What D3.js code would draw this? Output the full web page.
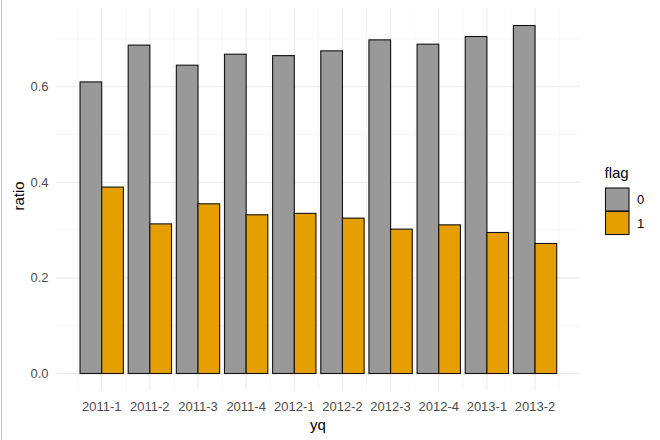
<!DOCTYPE html>
<html><head><meta charset="utf-8">
<script src="https://cdn.jsdelivr.net/npm/d3@7"></script>
<style>body{margin:0;background:#fff}svg{display:block}text{font-family:"Liberation Sans",Arial,sans-serif}</style>
</head><body><svg id="c" width="660" height="440"></svg>
<script>
const categories = ["2011-1","2011-2","2011-3","2011-4","2012-1","2012-2","2012-3","2012-4","2013-1","2013-2"];
const flags = ["0","1"];
const ratio0 = [0.610,0.687,0.645,0.668,0.665,0.675,0.698,0.689,0.705,0.728];
const ratio1 = [0.390,0.313,0.355,0.332,0.335,0.325,0.302,0.311,0.295,0.272];
const yTicks = [0,0.2,0.4,0.6];
const yMinor = [0.1,0.3,0.5,0.7];
const colors = ["#999999","#E69F00"];

const svg = d3.select("#c");
const W=660,H=440;
const panel = {l:56, r:580, t:8, b:390};

svg.append("line").attr("x1",1.5).attr("x2",1.5).attr("y1",0).attr("y2",H).attr("stroke","#c8c8c8").attr("stroke-width",1);

const step = 48.15;
const c0 = 101.7;
const x = d3.scaleLinear().domain([1,10]).range([c0, c0+9*step]);
const y = d3.scaleLinear().domain([0,0.6]).range([373.5, 373.5-0.6*478]);

const g = svg.append("g");
yMinor.forEach(v=>g.append("line").attr("x1",panel.l).attr("x2",panel.r).attr("y1",y(v)).attr("y2",y(v)).attr("stroke","#f2f2f2").attr("stroke-width",0.6));
const xMinor = d3.range(0.5,11,1).filter(v=>x(v)>=panel.l&&x(v)<=panel.r);
xMinor.forEach(v=>g.append("line").attr("x1",x(v)).attr("x2",x(v)).attr("y1",panel.t).attr("y2",panel.b).attr("stroke","#f2f2f2").attr("stroke-width",0.6));
yTicks.forEach(v=>g.append("line").attr("x1",panel.l).attr("x2",panel.r).attr("y1",y(v)).attr("y2",y(v)).attr("stroke","#ebebeb").attr("stroke-width",1.1));
categories.forEach((c,i)=>g.append("line").attr("x1",x(i+1)).attr("x2",x(i+1)).attr("y1",panel.t).attr("y2",panel.b).attr("stroke","#ebebeb").attr("stroke-width",1.1));

const bw = step*0.9/2;
const series=[ratio0,ratio1];
series.forEach((vals,s)=>{
  g.selectAll(null).data(vals).enter().append("rect")
   .attr("x",(d,i)=>x(i+1)-step*0.45+s*bw)
   .attr("y",d=>y(d)).attr("width",bw).attr("height",d=>y(0)-y(d))
   .attr("fill",colors[s]).attr("stroke","#111").attr("stroke-width",1.1);
});

yTicks.forEach(v=>svg.append("text").attr("x",48.5).attr("y",y(v)).attr("dy","0.35em").attr("text-anchor","end")
  .attr("font-size","13px").attr("fill","#4d4d4d").text(d3.format(".1f")(v)));
categories.forEach((c,i)=>svg.append("text").attr("x",x(i+1)).attr("y",410.5).attr("text-anchor","middle")
  .attr("font-size","13px").attr("fill","#4d4d4d").text(c));
svg.append("text").attr("x",(panel.l+panel.r)/2).attr("y",430).attr("text-anchor","middle").attr("font-size","15px").attr("fill","#000").text("yq");
svg.append("text").attr("transform","translate(24,196) rotate(-90)").attr("text-anchor","middle").attr("font-size","15px").attr("fill","#000").text("ratio");

svg.append("text").attr("x",604.5).attr("y",178).attr("font-size","15px").attr("fill","#000").text("flag");
flags.forEach((f,i)=>{
  svg.append("rect").attr("x",605.5).attr("y",188+i*23.5).attr("width",23.5).attr("height",23).attr("fill",colors[i]).attr("stroke","#111").attr("stroke-width",1.1);
  svg.append("text").attr("x",637).attr("y",199.5+i*23.5).attr("dy","0.35em").attr("font-size","13px").attr("fill","#000").text(f);
});
</script></body></html>
